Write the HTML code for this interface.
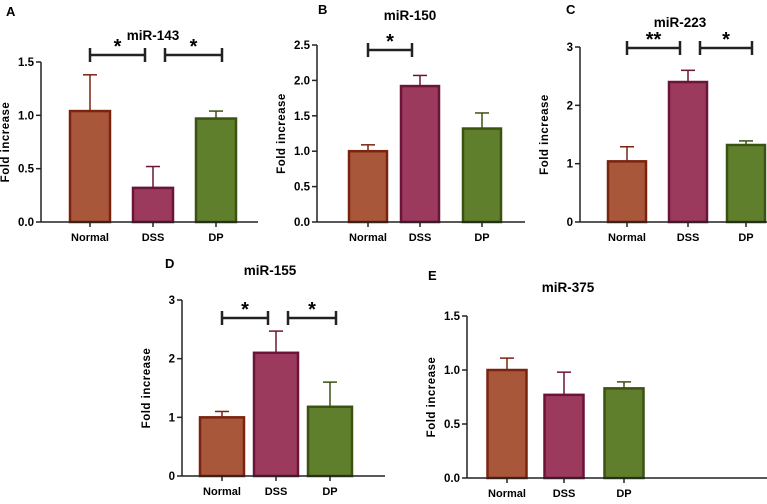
<!DOCTYPE html>
<html><head><meta charset="utf-8"><style>
body{margin:0;background:#fff}
svg{display:block;font-family:"Liberation Sans",sans-serif}
</style></head><body>
<svg id="c" width="767" height="504"></svg>
<script>
const categories=["Normal","DSS","DP"];
const titles=["miR-143","miR-150","miR-223","miR-155","miR-375"];
const letters=["A","B","C","D","E"];
const valuesA=[1.04,0.32,0.97], errA=[0.34,0.2,0.07];
const valuesB=[1.0,1.92,1.32], errB=[0.09,0.15,0.22];
const valuesC=[1.04,2.4,1.32], errC=[0.25,0.2,0.07];
const valuesD=[1.0,2.1,1.18], errD=[0.1,0.37,0.42];
const valuesE=[1.0,0.77,0.83], errE=[0.11,0.21,0.06];
const ticksA=["0.0","0.5","1.0","1.5"], ticksB=["0.0","0.5","1.0","1.5","2.0","2.5"], ticksC=["0","1","2","3"], ticksD=["0","1","2","3"], ticksE=["0.0","0.5","1.0","1.5"];
const sigA=[[0,1,"*"],[1,2,"*"]], sigB=[[0,1,"*"]], sigC=[[0,1,"**"],[1,2,"*"]], sigD=[[0,1,"*"],[1,2,"*"]], sigE=[];
const fills=["#a8573b","#9c3a5e","#5f7f2d"], strokes=["#7a2410","#6a1538","#3b5212"];
const NS="http://www.w3.org/2000/svg", svg=document.getElementById("c");
function el(t,a,p){const e=document.createElementNS(NS,t);for(const k in a)e.setAttribute(k,a[k]);(p||svg).appendChild(e);return e;}
function txt(s,a,p){const e=el("text",a,p);e.textContent=s;return e;}
const layout=[
 {ax:41,y0:222,yT:62,max:1.5,xs:[90,153,216],xe:258,lx:6,ly:16,tx:153,ty:40,by:55,bw:40},
 {ax:317,y0:222,yT:45,max:2.5,xs:[368,420,482],xe:525,lx:318,ly:14,tx:410,ty:20,by:50,bw:38},
 {ax:580,y0:222,yT:47,max:3,xs:[627,688,746],xe:767,lx:566,ly:14,tx:680,ty:27,by:48,bw:38},
 {ax:182,y0:476,yT:300,max:3,xs:[222,276,330],xe:385,lx:165,ly:268,tx:270,ty:275,by:318,bw:44},
 {ax:467,y0:478,yT:316,max:1.5,xs:[507,564,624],xe:767,lx:428,ly:280,tx:568,ty:292,by:0,bw:39}];
const V=[valuesA,valuesB,valuesC,valuesD,valuesE], E=[errA,errB,errC,errD,errE], T=[ticksA,ticksB,ticksC,ticksD,ticksE], S=[sigA,sigB,sigC,sigD,sigE];
layout.forEach((L,i)=>{
 const g=el("g",{});
 
 
 const y=v=>L.y0-(v/L.max)*(L.y0-L.yT);
 const pl=txt(letters[i],{x:L.lx,y:L.ly,"font-size":13,"font-weight":"bold"},g);
 
 
 const tt=txt(titles[i],{x:L.tx,y:L.ty,"font-size":13.5,"font-weight":"bold","text-anchor":"middle"},g);
 
 
 V[i].forEach((v,j)=>{
  const x=L.xs[j], top=y(v), et=y(v+E[i][j]);
  const ln=el("line",{x1:x,x2:x,y1:top,y2:et,stroke:strokes[j],"stroke-width":1.5},g);
  
  
  el("line",{x1:x-7,x2:x+7,y1:et,y2:et,stroke:strokes[j],"stroke-width":1.5},g);
  const r=el("rect",{x:x-L.bw/2,y:top,width:L.bw,height:L.y0-top,fill:fills[j],stroke:strokes[j],"stroke-width":2.5},g);
  
  
  el("line",{x1:x,x2:x,y1:L.y0,y2:L.y0+5,stroke:"#222","stroke-width":1.5},g);
  const xl=txt(categories[j],{x:x,y:L.y0+19,"font-size":11,"font-weight":"bold","text-anchor":"middle"},g);
  
  
 });
 const ya=el("line",{x1:L.ax,x2:L.ax,y1:L.y0,y2:L.yT,stroke:"#222","stroke-width":1.5},g);
 
 
 const xa=el("line",{x1:L.ax,x2:L.xe,y1:L.y0,y2:L.y0,stroke:"#222","stroke-width":1.5},g);
 
 
 T[i].forEach(t=>{
  const yy=y(parseFloat(t));
  el("line",{x1:L.ax-5,x2:L.ax,y1:yy,y2:yy,stroke:"#222","stroke-width":1.5},g);
  const tl=txt(t,{x:L.ax-7,y:yy+4,"font-size":11.5,"font-weight":"bold","text-anchor":"end"},g);
  
  
 });
 const ym=(L.y0+L.yT)/2;
 const yl=txt("Fold increase",{x:L.ax-32,y:ym,"font-size":11.5,"font-weight":"bold","text-anchor":"middle","letter-spacing":"0.5",transform:`rotate(-90 ${L.ax-32} ${ym})`},g);
 
 
 S[i].forEach(s=>{
  const x1=s[0]===0?L.xs[0]:L.xs[1]+12, x2=s[0]===0?L.xs[1]-8:L.xs[2]+6;
  const br=el("path",{d:`M${x1} ${L.by-7}V${L.by+7}M${x1} ${L.by}H${x2}M${x2} ${L.by-7}V${L.by+7}`,stroke:"#222","stroke-width":2.5,fill:"none"},g);
  
  
  const st=txt(s[2],{x:(x1+x2)/2,y:L.by-2,"font-size":20,"font-weight":"bold","text-anchor":"middle"},g);
  
  
 });
});
</script>
</body></html>
